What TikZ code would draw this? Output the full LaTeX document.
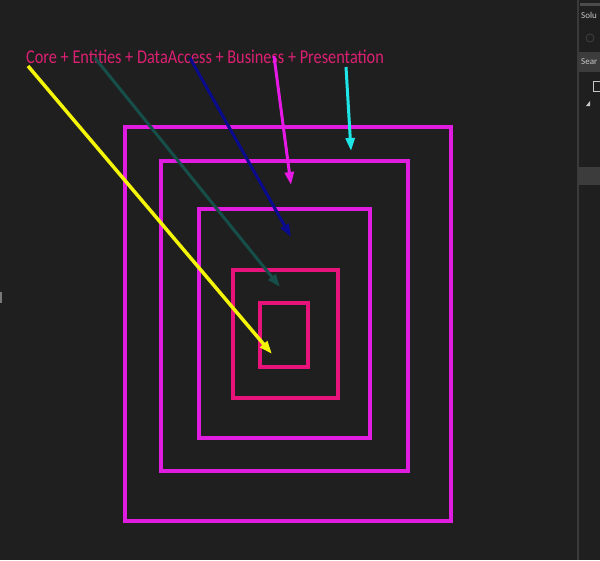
\documentclass[tikz,border=0pt]{standalone}
\usepackage{fontspec}
\setmainfont{Carlito}
\usetikzlibrary{arrows.meta}
\definecolor{bg}{HTML}{1F1F1F}
\definecolor{lyrmag}{HTML}{E01CE0}
\definecolor{lyrred}{HTML}{E8137A}
\definecolor{txtred}{HTML}{DC1F72}
\definecolor{ayellow}{HTML}{F5F50A}
\definecolor{ateal}{HTML}{164F4A}
\definecolor{anavy}{HTML}{0A0A8C}
\definecolor{amag}{HTML}{E619E6}
\definecolor{acyan}{HTML}{1EE6E6}
\definecolor{panelline}{HTML}{3A3A3A}
\definecolor{panelgray}{HTML}{3C3C3C}
\definecolor{paneltext}{HTML}{C8C8C8}
\tikzset{
  layerbox/.style={draw=#1, line width=4pt, inner sep=0pt, fill=none},
  ptr/.style={draw=#1, line width=3pt, -{Triangle[length=13pt,width=9pt]}},
}
\begin{document}
\begin{tikzpicture}[x=1pt,y=-1pt]
\fill[bg] (0,0) rectangle (600,560);
\useasboundingbox (0,0) rectangle (600,560);
% right side panel
\draw[panelline, line width=1.2pt] (578,0) -- (578,560);
\fill[bg!80!white] (580,3) rectangle (600,6);
\fill[panelgray] (579,52) rectangle (600,72);
\fill[panelgray] (579,167) rectangle (600,185);
\node[anchor=west, text=paneltext, font=\fontsize{9}{9}\selectfont, inner sep=0pt] (solu) at (581,15) {Solu};
\node[anchor=west, text=paneltext, font=\fontsize{9}{9}\selectfont, inner sep=0pt] (sear) at (581,62) {Sear};
\draw[panelline, line width=1pt] (590,38) circle (4);
\fill[paneltext] (586,106) -- (590,101) -- (590,106) -- cycle;
\draw[paneltext, line width=0.8pt] (593,81) rectangle (600,91);
\fill[bg!60!white] (0,292) rectangle (2,303);
% layer boxes
\node[layerbox=lyrmag, minimum width=326pt, minimum height=394pt] (presentation) at (288,324) {};
\node[layerbox=lyrmag, minimum width=247pt, minimum height=310pt] (business) at (284,315.5) {};
\node[layerbox=lyrmag, minimum width=171pt, minimum height=229pt] (dataaccess) at (284,323) {};
\node[layerbox=lyrred, minimum width=105pt, minimum height=128pt] (entities) at (285,333.5) {};
\node[layerbox=lyrred, minimum width=48pt, minimum height=64pt] (core) at (284,335) {};
% title
\node[anchor=west, text=txtred, font=\fontsize{16.3}{16.3}\selectfont, inner sep=0pt] (title) at (26,57) {\scalebox{1}[1.2]{Core + Entities + DataAccess + Business + Presentation}};
% arrow coordinates
\coordinate (ys) at (28,66);   \coordinate (ye) at (272,354);
\coordinate (ts) at (95,58);   \coordinate (te) at (280,287);
\coordinate (ns) at (190,58);  \coordinate (ne) at (291,237);
\coordinate (ms) at (274,56);  \coordinate (me) at (291,185);
\coordinate (cs) at (346,67);  \coordinate (ce) at (351,151);
\draw[ptr=ateal] (ts) -- (te);
\draw[ptr=anavy] (ns) -- (ne);
\draw[ptr=amag] (ms) -- (me);
\draw[ptr=acyan] (cs) -- (ce);
\draw[ptr=ayellow, line width=3.5pt] (ys) -- (ye);
\end{tikzpicture}
\end{document}
